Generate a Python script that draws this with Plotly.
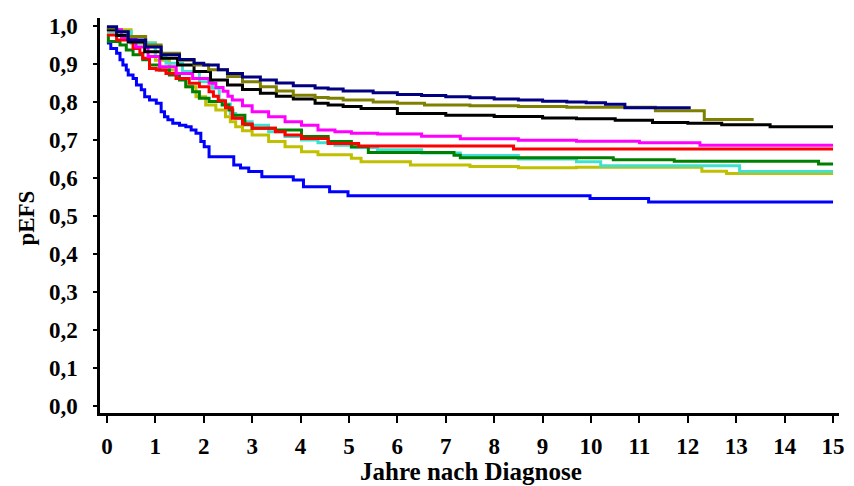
import plotly.graph_objects as go

# ---- data (years since diagnosis, pEFS) ----
navy_t = [0, 0.2, 0.44, 0.8, 1.12, 1.5, 1.8, 2.0, 2.3, 2.49, 2.8, 3.17, 3.5, 3.85, 4.3, 4.57, 4.88, 5.5, 6.0, 6.5, 7.0, 7.5, 8.0, 8.5, 9.0, 9.5, 9.9, 10.3, 10.7, 12.06]
navy_v = [0.998, 0.985, 0.963, 0.945, 0.924, 0.912, 0.902, 0.897, 0.885, 0.875, 0.866, 0.858, 0.850, 0.843, 0.837, 0.834, 0.829, 0.824, 0.820, 0.817, 0.814, 0.811, 0.808, 0.805, 0.802, 0.800, 0.798, 0.794, 0.785, 0.785]

olive_t = [0, 0.2, 0.44, 0.8, 1.12, 1.5, 1.8, 2.1, 2.49, 2.8, 3.17, 3.5, 3.85, 4.3, 4.57, 4.88, 5.5, 6.0, 6.56, 7.5, 8.5, 9.5, 11.33, 12.34, 13.36]
olive_v = [0.995, 0.985, 0.972, 0.950, 0.928, 0.910, 0.897, 0.885, 0.867, 0.853, 0.840, 0.829, 0.818, 0.812, 0.810, 0.805, 0.800, 0.797, 0.792, 0.790, 0.788, 0.786, 0.777, 0.754, 0.754]

black_t = [0, 0.2, 0.44, 0.78, 1.12, 1.46, 1.8, 2.14, 2.49, 2.8, 3.17, 3.5, 3.85, 4.3, 4.57, 4.88, 5.25, 6.0, 7.0, 8.0, 9.0, 9.7, 10.5, 11.27, 12.0, 12.7, 13.7, 15.0]
black_v = [0.99, 0.975, 0.958, 0.932, 0.915, 0.897, 0.880, 0.858, 0.845, 0.833, 0.823, 0.815, 0.808, 0.797, 0.792, 0.788, 0.783, 0.770, 0.765, 0.762, 0.758, 0.756, 0.752, 0.746, 0.744, 0.740, 0.735, 0.735]

magenta_t = [0, 0.3, 0.6, 0.85, 1.09, 1.43, 1.77, 2.11, 2.25, 2.4, 2.5, 2.59, 2.8, 3.0, 3.34, 3.68, 4.02, 4.36, 4.71, 5.05, 5.59, 6.5, 7.3, 8.5, 9.7, 11.0, 12.25, 15.0]
magenta_v = [0.99, 0.97, 0.945, 0.92, 0.893, 0.875, 0.862, 0.849, 0.838, 0.828, 0.815, 0.805, 0.790, 0.774, 0.761, 0.748, 0.739, 0.726, 0.722, 0.718, 0.716, 0.710, 0.703, 0.699, 0.697, 0.693, 0.686, 0.686]

red_t = [0, 0.1, 0.2, 0.54, 0.68, 0.74, 0.88, 1.02, 1.22, 1.43, 1.70, 1.91, 2.11, 2.2, 2.3, 2.45, 2.59, 2.8, 3.0, 3.48, 3.68, 4.02, 4.57, 5.2, 8.4, 15.0]
red_v = [0.976, 0.976, 0.963, 0.941, 0.928, 0.915, 0.888, 0.884, 0.875, 0.862, 0.849, 0.840, 0.827, 0.815, 0.803, 0.785, 0.757, 0.742, 0.731, 0.722, 0.713, 0.704, 0.691, 0.684, 0.676, 0.676]

green_t = [0, 0.03, 0.27, 0.40, 0.54, 0.74, 0.88, 1.09, 1.29, 1.5, 1.63, 1.77, 1.91, 2.11, 2.38, 2.52, 2.6, 2.85, 3.0, 3.48, 4.02, 4.57, 5.05, 5.4, 7.17, 7.3, 10.46, 11.72, 14.7, 15.0]
green_v = [0.974, 0.959, 0.950, 0.937, 0.924, 0.911, 0.897, 0.884, 0.871, 0.858, 0.840, 0.827, 0.810, 0.801, 0.792, 0.779, 0.765, 0.740, 0.731, 0.726, 0.709, 0.696, 0.682, 0.667, 0.660, 0.653, 0.648, 0.644, 0.637, 0.637]

turq_t = [0, 0.5, 1.0, 1.22, 1.56, 1.91, 2.18, 2.32, 2.4, 2.55, 2.66, 2.8, 3.0, 3.34, 3.68, 4.02, 4.36, 4.71, 5.05, 5.59, 6.5, 7.3, 8.5, 9.7, 10.2, 13.07, 15.0]
turq_v = [0.985, 0.955, 0.92, 0.902, 0.880, 0.853, 0.836, 0.805, 0.795, 0.770, 0.757, 0.748, 0.739, 0.722, 0.709, 0.700, 0.693, 0.686, 0.680, 0.674, 0.666, 0.659, 0.650, 0.643, 0.632, 0.617, 0.617]

yellow_t = [0, 0.5, 1.0, 1.29, 1.43, 1.63, 1.84, 2.04, 2.25, 2.45, 2.55, 2.66, 2.8, 3.0, 3.34, 3.68, 4.02, 4.36, 5.05, 5.25, 6.27, 7.5, 8.5, 9.7, 12.29, 12.8, 15.0]
yellow_v = [0.99, 0.955, 0.91, 0.884, 0.862, 0.840, 0.814, 0.792, 0.779, 0.761, 0.748, 0.735, 0.724, 0.713, 0.696, 0.682, 0.669, 0.661, 0.652, 0.643, 0.634, 0.630, 0.627, 0.628, 0.618, 0.612, 0.612]

blue_t = [0, 0.08, 0.2, 0.27, 0.33, 0.40, 0.44, 0.54, 0.61, 0.71, 0.78, 0.88, 1.02, 1.12, 1.19, 1.26, 1.36, 1.50, 1.63, 1.74, 1.84, 1.94, 2.01, 2.11, 2.55, 2.62, 2.76, 2.93, 3.20, 3.85, 4.06, 4.53, 4.60, 4.98, 9.98, 11.19, 15.0]
blue_v = [0.955, 0.941, 0.928, 0.911, 0.897, 0.884, 0.871, 0.862, 0.845, 0.832, 0.814, 0.805, 0.797, 0.774, 0.761, 0.753, 0.744, 0.739, 0.735, 0.726, 0.718, 0.696, 0.682, 0.656, 0.656, 0.634, 0.626, 0.617, 0.603, 0.595, 0.577, 0.577, 0.564, 0.553, 0.546, 0.537, 0.537]

series = [
    (blue_t, blue_v, "#0000FF"),
    (yellow_t, yellow_v, "#C0C000"),
    (turq_t, turq_v, "#40E0D0"),
    (green_t, green_v, "#008000"),
    (red_t, red_v, "#FF0000"),
    (magenta_t, magenta_v, "#FF00FF"),
    (black_t, black_v, "#000000"),
    (olive_t, olive_v, "#808000"),
    (navy_t, navy_v, "#000080"),
]

x_ticks = list(range(0, 16))
y_ticks = [i / 10 for i in range(0, 11)]

FONT = "Liberation Serif, Times New Roman, serif"

fig = go.Figure()
for t, v, c in series:
    fig.add_trace(go.Scatter(x=t, y=v, mode="lines", line=dict(color=c, width=3, shape="hv"),
                             showlegend=False, hoverinfo="skip"))

fig.update_layout(
    width=854, height=486,
    margin=dict(l=100, r=9, t=18, b=73),
    paper_bgcolor="white", plot_bgcolor="white",
    separators=",.",
    font=dict(family=FONT, color="black"),
    annotations=[
        dict(text="pEFS", xref="paper", yref="paper", x=(25 - 100) / 745, y=(413 - 218) / 395,
             xanchor="center", yanchor="middle", textangle=-90, showarrow=False,
             font=dict(family=FONT, size=23, color="black", weight="bold")),
        dict(text="Jahre nach Diagnose", xref="paper", yref="paper", x=(474 - 100) / 745, y=(413 - 472) / 395,
             xanchor="center", yanchor="middle", showarrow=False,
             font=dict(family=FONT, size=25, color="black", weight="bold")),
    ],
)
fig.update_xaxes(range=[-0.143, 15.123], tickvals=x_ticks, ticks="outside", ticklen=7, tickwidth=2,
                 tickcolor="black", showline=True, linewidth=2.5, linecolor="black", showgrid=False,
                 zeroline=False, ticklabelstandoff=4,
                 tickfont=dict(family=FONT, size=23, color="black", weight="bold"))
fig.update_yaxes(range=[-0.0184, 1.021], tickvals=y_ticks, tickformat=".1f", ticks="outside", ticklen=4,
                 tickwidth=2, tickcolor="black", showline=True, linewidth=2.5, linecolor="black",
                 showgrid=False, zeroline=False, ticklabelstandoff=11,
                 tickfont=dict(family=FONT, size=23, color="black", weight="bold"))

fig.write_html("out.html", config={"displayModeBar": False},
               post_script="document.body.style.margin='0';")
